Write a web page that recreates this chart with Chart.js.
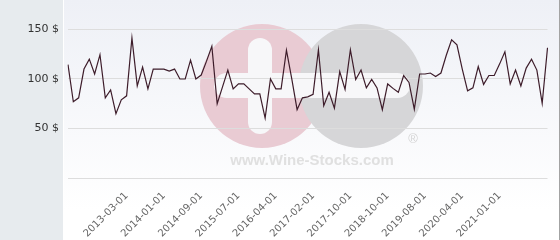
<!DOCTYPE html>
<html>
<head>
<meta charset="utf-8">
<script src="https://cdn.jsdelivr.net/npm/chart.js@4.4.1/dist/chart.umd.min.js"></script>
<style>
  html, body { margin: 0; padding: 0; background: #fff; }
  #wrap { width: 560px; height: 240px; position: relative; }
</style>
</head>
<body>
<div id="wrap"><canvas id="chart"></canvas></div>
<script>
// price per bottle, one value per listing
const prices = [
  114.5, 77, 81, 110, 120, 105, 124.5, 81, 89, 65,
  79, 83, 141.5, 93, 112, 90, 110, 110, 110, 108,
  110, 100, 100, 119, 100, 104, 118, 133, 75, 92,
  109, 90, 95, 95, 90, 85, 85, 60.5, 100, 90,
  90, 129, 100, 69, 81, 82, 84.5, 129.5, 73, 86.5,
  70.5, 107.5, 89.5, 129.5, 99.5, 109, 91, 99.5, 91, 69,
  95, 90.5, 86.5, 103.5, 96.5, 69.5, 105, 105, 106, 102.5,
  106, 124, 139.5, 134.5, 110, 88, 91, 112.5, 94.5, 103.5,
  103.5, 115, 127.5, 95, 109, 93, 111, 120, 109, 75.5,
  131.5
];

// dates shown under the axis and the point they sit under
const tickDates = ['2013-03-01', '2014-01-01', '2014-09-01', '2015-07-01', '2016-04-01',
  '2017-02-01', '2017-10-01', '2018-10-01', '2019-08-01', '2020-04-01', '2021-01-01'];
const tickIndexes = [11, 18, 25, 32, 39, 46, 53, 60, 67, 74, 81];

const yTicks = [0, 50, 100, 150];

const categories = prices.map(() => '');
tickIndexes.forEach((idx, i) => { categories[idx] = tickDates[i]; });

const background = {
  id: 'background',
  beforeDraw(chart) {
    const ctx = chart.ctx;
    const w = chart.width, h = chart.height;
    ctx.save();
    ctx.fillStyle = '#e7ebee';
    ctx.fillRect(0, 0, 63, h);
    ctx.fillStyle = '#ffffff';
    ctx.fillRect(63, 0, 1, h);
    const grad = ctx.createLinearGradient(0, 0, 0, 210);
    grad.addColorStop(0, '#eef0f6');
    grad.addColorStop(1, '#ffffff');
    ctx.fillStyle = grad;
    ctx.fillRect(64, 0, w - 65, h);
    ctx.fillStyle = '#a3a3a3';
    ctx.fillRect(w - 1, 0, 1, h);

    // watermark logo
    ctx.fillStyle = '#e9cbd3';
    ctx.beginPath();
    ctx.arc(262, 86, 62, 0, Math.PI * 2);
    ctx.fill();
    ctx.fillStyle = '#d6d6d8';
    ctx.beginPath();
    ctx.arc(361, 86, 62, 0, Math.PI * 2);
    ctx.fill();
    ctx.fillStyle = '#f7f7f9';
    ctx.beginPath();
    ctx.roundRect(248, 38, 24, 96, 12);
    ctx.fill();
    ctx.beginPath();
    ctx.roundRect(214, 73, 196, 25, 12.5);
    ctx.fill();
    ctx.fillStyle = '#e0e0e0';
    ctx.font = 'bold 15px "Liberation Sans", Arial, sans-serif';
    ctx.textAlign = 'center';
    ctx.textBaseline = 'middle';
    ctx.fillText('www.Wine-Stocks.com', 312, 161);
    ctx.font = '13px "Liberation Sans", Arial, sans-serif';
    ctx.fillStyle = '#d4d4d4';
    ctx.fillText('®', 413, 139);
    ctx.restore();
  }
};

new Chart(document.getElementById('chart'), {
  type: 'line',
  data: {
    labels: categories,
    datasets: [{
      label: 'Price',
      data: prices,
      borderColor: '#3d1c2a',
      borderWidth: 1.2,
      pointRadius: 0,
      tension: 0,
      fill: false
    }]
  },
  options: {
    responsive: true,
    maintainAspectRatio: false,
    animation: false,
    layout: { padding: { top: 0, right: 5, left: 0, bottom: 0 } },
    plugins: {
      legend: { display: false },
      tooltip: { enabled: false }
    },
    scales: {
      x: {
        grid: { display: false },
        border: { display: false },
        ticks: {
          autoSkip: false,
          minRotation: 45,
          maxRotation: 45,
          padding: 4,
          color: '#666',
          font: { family: '"DejaVu Sans", sans-serif', size: 10 }
        },
        afterFit(scale) { scale.height = 62; }
      },
      y: {
        min: 0,
        max: 164,
        afterBuildTicks(scale) { scale.ticks = yTicks.map(v => ({value: v})); },
        grid: { color: '#dddddd', drawTicks: false },
        border: { display: false },
        ticks: {
          padding: 9,
          color: '#333',
          font: { family: '"DejaVu Sans", sans-serif', size: 11 },
          callback: v => v === 0 ? '' : v + ' $'
        },
        afterFit(scale) { scale.width = 68; }
      }
    }
  },
  plugins: [background]
});
</script>
</body>
</html>
